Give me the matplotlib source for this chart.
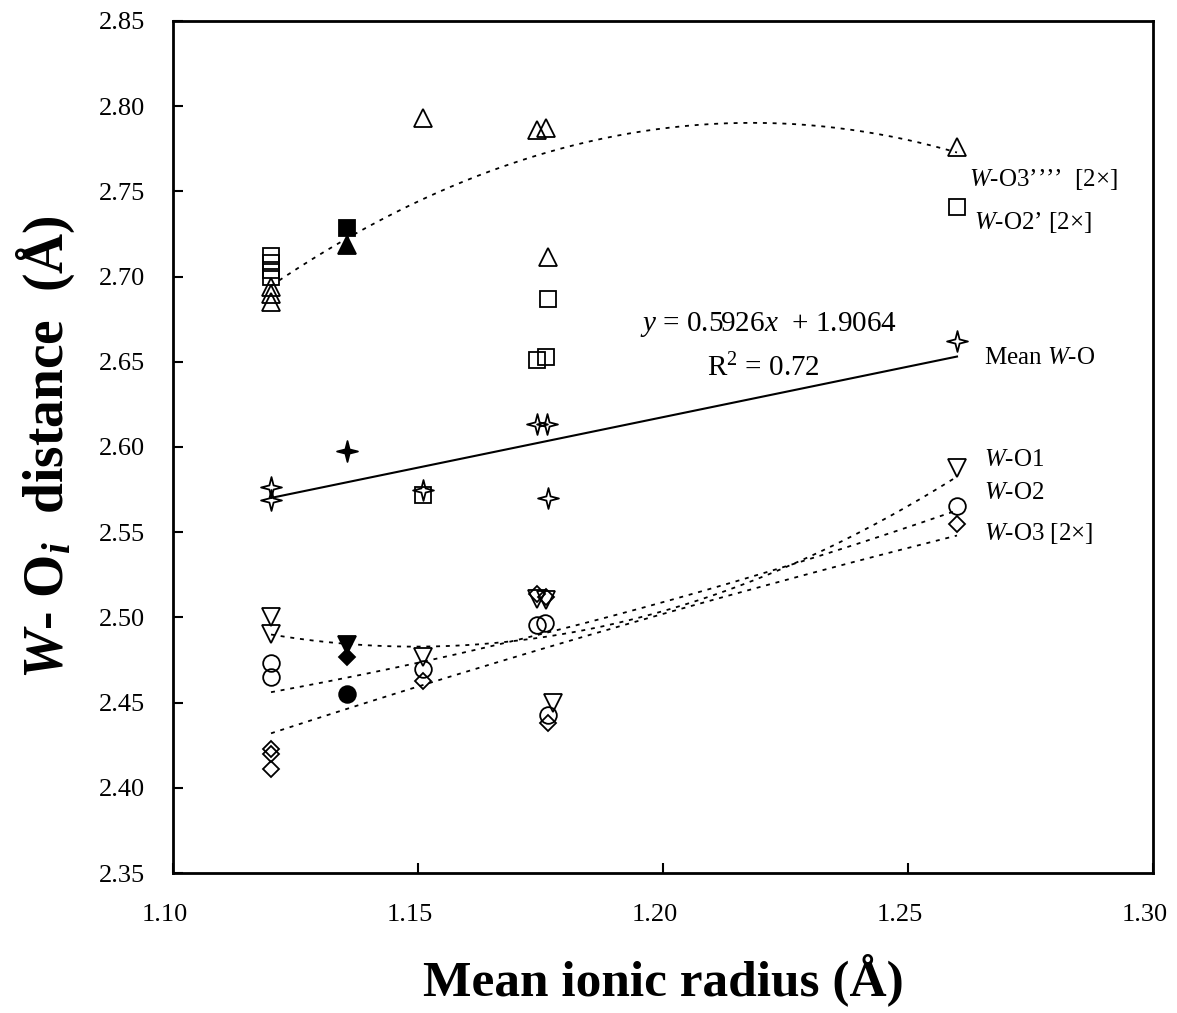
import numpy as np
import matplotlib
matplotlib.use("Agg")
import matplotlib.pyplot as plt
from matplotlib.path import Path
from matplotlib.transforms import ScaledTranslation

plt.rcParams['font.family'] = ['Liberation Serif', 'DejaVu Serif']
plt.rcParams['mathtext.fontset'] = 'custom'
plt.rcParams['mathtext.rm'] = 'Liberation Serif'
plt.rcParams['mathtext.it'] = 'Liberation Serif:italic'
plt.rcParams['mathtext.bf'] = 'Liberation Serif:bold'
plt.rcParams['mathtext.bfit'] = 'Liberation Serif:bold:italic'

# ---------------- data ----------------
x_filled = 1.1355

x_o3pppp = [1.12, 1.12, 1.12, 1.151, 1.1743, 1.1761, 1.1765, 1.26]
y_o3pppp = [2.694, 2.690, 2.685, 2.793, 2.786, 2.787, 2.7115, 2.776]
f_o3pppp = 2.7185

x_o2p = [1.12, 1.12, 1.12, 1.12, 1.151, 1.1743, 1.1761, 1.1765, 1.26]
y_o2p = [2.712, 2.708, 2.704, 2.700, 2.572, 2.651, 2.653, 2.687, 2.741]
f_o2p = 2.7285

x_mean = [1.12, 1.12, 1.151, 1.1743, 1.1763, 1.1765, 1.26]
y_mean = [2.5765, 2.569, 2.575, 2.6135, 2.6135, 2.570, 2.662]
f_mean = 2.5977

x_o1 = [1.12, 1.12, 1.151, 1.1743, 1.1761, 1.1775, 1.26]
y_o1 = [2.500, 2.490, 2.477, 2.511, 2.510, 2.450, 2.5875]
f_o1 = 2.484

x_o2 = [1.12, 1.12, 1.151, 1.1743, 1.1760, 1.1765, 1.26]
y_o2 = [2.473, 2.465, 2.470, 2.4955, 2.4965, 2.443, 2.5655]
f_o2 = 2.455

x_o3 = [1.12, 1.12, 1.12, 1.151, 1.1743, 1.1761, 1.1765, 1.26]
y_o3 = [2.4228, 2.4199, 2.4111, 2.4627, 2.514, 2.512, 2.438, 2.555]
f_o3 = 2.4768

# trend-line readings (dotted 2nd-order trends)
trend_x_o1 = [1.12, 1.14, 1.16, 1.20, 1.225, 1.26]
trend_y_o1 = [2.491, 2.483, 2.482, 2.505, 2.530, 2.582]
trend_x_o2 = [1.12, 1.14, 1.20, 1.225, 1.26]
trend_y_o2 = [2.455, 2.469, 2.508, 2.530, 2.563]
trend_x_o3 = [1.12, 1.14, 1.20, 1.225, 1.26]
trend_y_o3 = [2.432, 2.4504, 2.502, 2.522, 2.548]

reg_slope = 0.5926
reg_intercept = 1.9064
reg_r2 = 0.72

xticks = [1.10, 1.15, 1.20, 1.25, 1.30]
yticks = [2.35, 2.40, 2.45, 2.50, 2.55, 2.60, 2.65, 2.70, 2.75, 2.80, 2.85]

# ---------------- figure ----------------
fig = plt.figure(figsize=(11.77, 10.13), dpi=100)
ax = fig.add_axes([0.147, 0.1382, 0.8326, 0.8411])

r = 0.2
star = Path([(0, 1), (r, r), (1, 0), (r, -r), (0, -1), (-r, -r), (-1, 0), (-r, r), (0, 1)],
            [Path.MOVETO] + [Path.LINETO] * 7 + [Path.CLOSEPOLY])

ew = 1.3
open_kw = dict(linestyle='none', mfc='none', mec='black', mew=ew, zorder=3)
fill_kw = dict(linestyle='none', mfc='black', mec='black', mew=ew, zorder=3)

series = [
    (x_o3pppp, y_o3pppp, f_o3pppp, '^', 13),
    (x_o2p, y_o2p, f_o2p, 's', 12),
    (x_mean, y_mean, f_mean, star, 15),
    (x_o1, y_o1, f_o1, 'v', 13),
    (x_o2, y_o2, f_o2, 'o', 12),
    (x_o3, y_o3, f_o3, 'D', 8.5),
]

for xs, ys, fy, mk, ms in series:
    ax.plot(xs, ys, marker=mk, ms=ms, **open_kw)
    ax.plot([x_filled], [fy], marker=mk, ms=ms, **fill_kw)

trend_dash = (0, (2.2, 3.2))
xx = np.linspace(1.12, 1.26, 200)
# top trend: quadratic fit of the W-O3'''' series
c = np.polyfit(np.array(x_o3pppp + [x_filled]), np.array(y_o3pppp + [f_o3pppp]), 2)
ax.plot(xx, np.polyval(c, xx), color='black', lw=1.3, linestyle=trend_dash, zorder=2)
for tx, ty in [(trend_x_o1, trend_y_o1), (trend_x_o2, trend_y_o2), (trend_x_o3, trend_y_o3)]:
    c = np.polyfit(tx, ty, 2)
    ax.plot(xx, np.polyval(c, xx), color='black', lw=1.3, linestyle=trend_dash, zorder=2)

xr = np.array([1.12, 1.26])
ax.plot(xr, reg_slope * xr + reg_intercept, color='black', lw=1.5, zorder=2)

ax.set_xlim(1.10, 1.30)
ax.set_ylim(2.35, 2.85)
ax.set_xticks(xticks)
ax.set_yticks(yticks)
ax.set_xticklabels([f"{v:.2f}" for v in xticks])
ax.set_yticklabels([f"{v:.2f}" for v in yticks])
ax.tick_params(direction='in', length=7, width=1.5, labelsize=19)
ax.tick_params(axis='x', pad=22)
ax.tick_params(axis='y', pad=20)
off = ScaledTranslation(-8 / 100, 0, fig.dpi_scale_trans)
for lab in ax.get_xticklabels():
    lab.set_transform(lab.get_transform() + off)
for s in ax.spines.values():
    s.set_linewidth(2.0)

ax.set_xlabel("Mean ionic radius (Å)", fontsize=37, fontweight='bold', labelpad=20)
ax.set_ylabel(r"$\mathbfit{W}$- O$_{\mathbfit{i}}$  distance  (Å)", fontsize=40,
              fontweight='bold', labelpad=16)

fs = 18
ax.text(1.2216, 2.6716, rf"$y$ = {reg_slope}$x$  + {reg_intercept}", fontsize=21,
        ha='center', va='center')
ax.text(1.2204, 2.6464, rf"R$^2$ = {reg_r2}", fontsize=21, ha='center', va='center')

ax.text(1.2625, 2.7567, r"$W$-O3’’’’  [2×]", fontsize=fs, ha='left', va='center')
ax.text(1.2635, 2.732, r"$W$-O2’ [2×]", fontsize=fs, ha='left', va='center')
ax.text(1.2655, 2.652, r"Mean $W$-O", fontsize=fs, ha='left', va='center')
ax.text(1.2655, 2.5924, r"$W$-O1", fontsize=fs, ha='left', va='center')
ax.text(1.2655, 2.573, r"$W$-O2", fontsize=fs, ha='left', va='center')
ax.text(1.2655, 2.549, r"$W$-O3 [2×]", fontsize=fs, ha='left', va='center')

fig.savefig("out.png", dpi=100)
